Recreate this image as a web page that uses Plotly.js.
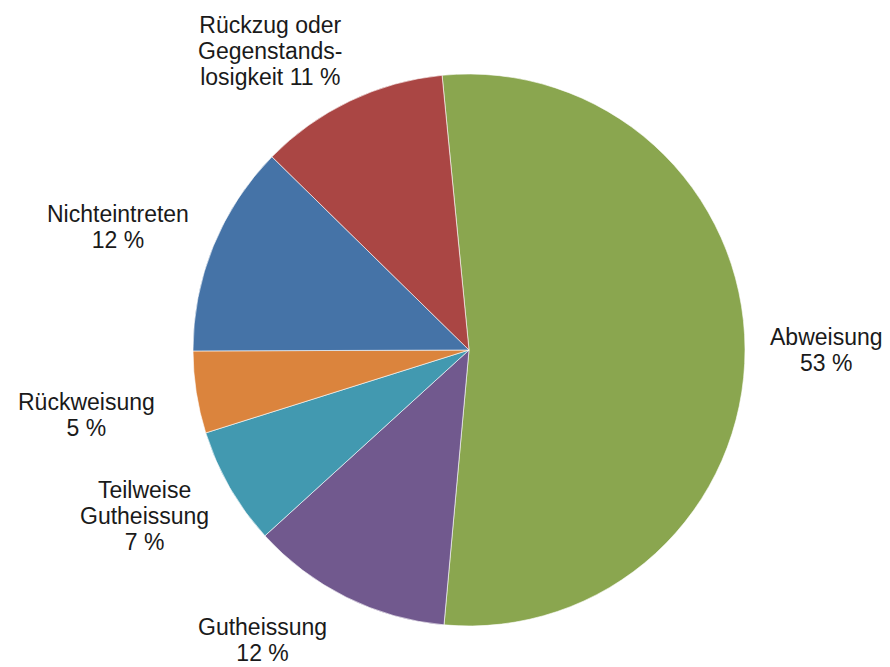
<!DOCTYPE html>
<html>
<head>
<meta charset="utf-8">
<script src="https://cdn.plot.ly/plotly-3.0.1.min.js"></script>
<style>html,body{margin:0;padding:0;background:#fff;}#chart{width:890px;height:667px;}</style>
</head>
<body>
<div id="chart"></div>
<script>
// Data (clockwise from the top)
var categories = ["Abweisung", "Gutheissung", "Teilweise Gutheissung", "Rückweisung", "Nichteintreten", "Rückzug oder Gegenstandslosigkeit"];
var shares = [53.0, 11.8, 6.9, 4.8, 12.4, 11.1];
var percentLabels = ["53 %", "12 %", "7 %", "5 %", "12 %", "11 %"];
var labelLines = [
  ["Abweisung", "53 %"],
  ["Gutheissung", "12 %"],
  ["Teilweise", "Gutheissung", "7 %"],
  ["Rückweisung", "5 %"],
  ["Nichteintreten", "12 %"],
  ["Rückzug oder", "Gegenstands-", "losigkeit 11 %"]
];
var colors = ["#8AA64F", "#71598E", "#4299B0", "#DB843D", "#4573A7", "#AA4644"];

// Layout-only label placement (pixel centres in the 890x667 frame)
var W = 890, H = 667;
var labelPos = [[826, 350], [262, 640], [144, 516], [86, 415], [118, 227], [270, 51]];

var annotations = labelLines.map(function (lines, i) {
  return {
    xref: "paper", yref: "paper",
    x: labelPos[i][0] / W, y: 1 - labelPos[i][1] / H,
    xanchor: "center", yanchor: "middle",
    showarrow: false, align: "center",
    text: lines.map(function (l) { return '<span style="font-size:23px">' + l + '</span>'; }).join("<br>"),
    font: {family: "Liberation Sans, Arial, sans-serif", size: 20, color: "#1a1a1a"}
  };
});

var cx = 469, cy = 350, r = 276;
var trace = {
  type: "pie",
  labels: categories,
  values: shares,
  text: percentLabels,
  sort: false,
  direction: "clockwise",
  rotation: -5.6,
  marker: {colors: colors, line: {color: "#ffffff", width: 0.6}},
  textinfo: "none",
  hoverinfo: "label+text",
  showlegend: false,
  domain: {x: [(cx - r) / W, (cx + r) / W], y: [1 - (cy + r) / H, 1 - (cy - r) / H]}
};

var layout = {
  width: W, height: H,
  margin: {l: 0, r: 0, t: 0, b: 0},
  paper_bgcolor: "#ffffff",
  showlegend: false,
  annotations: annotations
};

Plotly.newPlot("chart", [trace], layout, {displayModeBar: false, staticPlot: true});
</script>
</body>
</html>
